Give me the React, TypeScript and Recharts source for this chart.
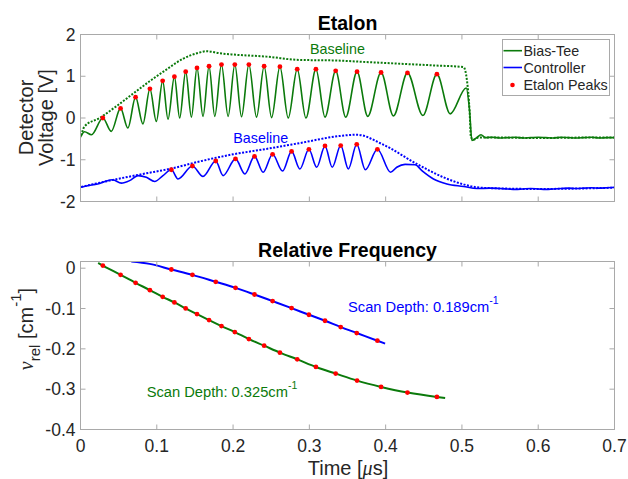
import React from 'react';
import { ComposedChart, Line, XAxis, YAxis, ReferenceArea } from 'recharts';

const FONT = '"Liberation Sans", Arial, Helvetica, sans-serif';
const SERIF = '"Liberation Serif", "DejaVu Serif", serif';
const AX = '#a9a9a9';
const TXT = '#262626';
const GREEN = '#0b7a0b';
const BLUE = '#0000ff';
const RED = '#ff0000';

// ---- axes ticks ----
const xTicks = [0, 0.1, 0.2, 0.3, 0.4, 0.5, 0.6, 0.7];
const voltTicks = [-2, -1, 0, 1, 2];
const freqTicks = [-0.4, -0.3, -0.2, -0.1, 0];

// ---- Etalon: Bias-Tee trace (time in us, volts) ----
const biasT = [0, 0.0053, 0.0144, 0.0293, 0.0403, 0.0525, 0.0621, 0.0722, 0.0818, 0.0910, 0.0994, 0.1077, 0.1147, 0.1231, 0.1300, 0.1379, 0.1454, 0.1527, 0.1606, 0.1685, 0.1760, 0.1848, 0.1935, 0.2023, 0.2111, 0.2207, 0.2308, 0.2407, 0.2505, 0.2614, 0.2723, 0.2841, 0.2955, 0.3086, 0.3205, 0.3345, 0.3477, 0.3625, 0.3765, 0.3940, 0.4102, 0.4286, 0.4488, 0.4672, 0.4846, 0.5056, 0.5100, 0.5131, 0.5188, 0.5250, 0.5306,
  0.54, 0.55, 0.56, 0.57, 0.58, 0.59, 0.60, 0.61, 0.62, 0.63, 0.64, 0.65, 0.66, 0.67, 0.68, 0.69, 0.70];
const biasV = [-0.46, -0.33, -0.40, 0.00, -0.32, 0.23, -0.24, 0.50, -0.14, 0.70, -0.08, 0.89, -0.03, 0.99, 0.00, 1.11, 0.02, 1.20, 0.04, 1.24, 0.04, 1.28, 0.04, 1.28, 0.03, 1.28, 0.02, 1.24, 0.01, 1.23, 0.00, 1.17, 0.00, 1.17, 0.02, 1.13, 0.02, 1.11, 0.04, 1.09, 0.05, 1.08, 0.06, 1.05, 0.10, 0.72, 0.18, -0.54, -0.48, -0.40, -0.47,
  -0.46, -0.48, -0.47, -0.46, -0.48, -0.47, -0.46, -0.47, -0.48, -0.46, -0.47, -0.48, -0.47, -0.46, -0.48, -0.47, -0.47];

// ---- Etalon: Controller trace ----
const ctrlT = [0, 0.0079, 0.0162, 0.0250, 0.0338, 0.0424, 0.0535, 0.0644, 0.0753, 0.0863, 0.0972, 0.1081, 0.1191, 0.1278, 0.1467, 0.1606, 0.1773, 0.1869, 0.2032, 0.2154, 0.2281, 0.2394, 0.2518, 0.2649, 0.2767, 0.2876, 0.2994, 0.3096, 0.3205, 0.3300, 0.3411, 0.3511, 0.3621, 0.3734, 0.3892, 0.4065, 0.4146, 0.4255, 0.4387, 0.4475, 0.4627, 0.4803, 0.5021, 0.5197, 0.5372,
  0.55, 0.56, 0.57, 0.58, 0.59, 0.60, 0.61, 0.62, 0.63, 0.64, 0.65, 0.66, 0.67, 0.68, 0.69, 0.70];
const ctrlV = [-1.66, -1.63, -1.60, -1.57, -1.51, -1.48, -1.56, -1.50, -1.38, -1.42, -1.52, -1.38, -1.24, -1.46, -1.15, -1.40, -1.03, -1.38, -0.98, -1.34, -0.92, -1.30, -0.87, -1.27, -0.80, -1.22, -0.75, -1.18, -0.67, -1.18, -0.66, -1.22, -0.63, -1.24, -0.75, -1.30, -1.18, -1.11, -1.12, -1.26, -1.46, -1.58, -1.64, -1.69, -1.68,
  -1.69, -1.70, -1.71, -1.70, -1.69, -1.70, -1.71, -1.70, -1.69, -1.68, -1.69, -1.68, -1.67, -1.68, -1.67, -1.66];

// ---- Baselines ----
const biasBaseT = [0.0009, 0.0053, 0.0250, 0.0469, 0.0687, 0.0906, 0.1126, 0.1345, 0.1563, 0.1650, 0.1826, 0.2000, 0.2439, 0.2876, 0.3300, 0.3752, 0.4190, 0.4627, 0.5021, 0.5066, 0.5100, 0.5118, 0.5152, 0.5214, 0.56, 0.60, 0.65, 0.70];
const biasBaseV = [-0.42, -0.20, 0.00, 0.28, 0.58, 0.88, 1.16, 1.42, 1.57, 1.60, 1.55, 1.52, 1.47, 1.39, 1.38, 1.34, 1.30, 1.26, 1.22, 0.90, 0.18, -0.46, -0.52, -0.47, -0.47, -0.48, -0.47, -0.47];
const ctrlBaseT = [0.0009, 0.0381, 0.0818, 0.1191, 0.1563, 0.2000, 0.2439, 0.2876, 0.3402, 0.3621, 0.3970, 0.4409, 0.4758, 0.5021, 0.5197, 0.5372, 0.60, 0.65, 0.70];
const ctrlBaseV = [-1.65, -1.50, -1.34, -1.21, -1.04, -0.87, -0.74, -0.60, -0.43, -0.40, -0.64, -1.10, -1.42, -1.59, -1.66, -1.68, -1.70, -1.69, -1.67];

// ---- Etalon peaks ----
const biasPeakT = [0.0293, 0.0525, 0.0722, 0.0910, 0.1077, 0.1231, 0.1379, 0.1527, 0.1685, 0.1848, 0.2023, 0.2207, 0.2407, 0.2614, 0.2841, 0.3086, 0.3345, 0.3625, 0.3940, 0.4286, 0.4672];
const biasPeakV = [0.00, 0.23, 0.50, 0.70, 0.89, 0.99, 1.11, 1.20, 1.24, 1.28, 1.28, 1.28, 1.24, 1.23, 1.17, 1.17, 1.13, 1.11, 1.09, 1.08, 1.05];
const ctrlPeakT = [0.1191, 0.1467, 0.1773, 0.2032, 0.2281, 0.2518, 0.2767, 0.2994, 0.3205, 0.3411, 0.3621, 0.3892];
const ctrlPeakV = [-1.24, -1.15, -1.03, -0.98, -0.92, -0.87, -0.80, -0.75, -0.67, -0.66, -0.63, -0.75];

// ---- Relative frequency at the peaks (cm^-1) ----
const biasFreqV = [0.0066, -0.0165, -0.0363, -0.0544, -0.0709, -0.0849, -0.0998, -0.1138, -0.1287, -0.1435, -0.1584, -0.1757, -0.1922, -0.2095, -0.2260, -0.2449, -0.2614, -0.2788, -0.2944, -0.3085, -0.3192];
const ctrlFreqV = [-0.0033, -0.0165, -0.0338, -0.0487, -0.0652, -0.0816, -0.0990, -0.1155, -0.1303, -0.1460, -0.1608, -0.1798];
// fit curves (ends)
const biasFitT = [0.0232, ...biasPeakT, 0.4780];
const biasFitV = [0.0130, ...biasFreqV, -0.3216];
const ctrlFitT = [0.0666, 0.0906, ...ctrlPeakT, 0.3993];
const ctrlFitV = [0.0165, 0.0107, ...ctrlFreqV, -0.1870];

const pts = (ts: number[], vs: number[]) => ts.map((t, i) => ({ t, v: vs[i] }));

const biasData = pts(biasT, biasV);
const ctrlData = pts(ctrlT, ctrlV);
const biasBase = pts(biasBaseT, biasBaseV);
const ctrlBase = pts(ctrlBaseT, ctrlBaseV);
const biasPeaks = pts(biasPeakT, biasPeakV);
const ctrlPeaks = pts(ctrlPeakT, ctrlPeakV);
const biasFreq = pts(biasPeakT, biasFreqV);
const ctrlFreq = pts(ctrlPeakT, ctrlFreqV);
const biasFit = pts(biasFitT, biasFitV);
const ctrlFit = pts(ctrlFitT, ctrlFitV);

const tickFont = { fill: TXT, fontSize: 17.5, fontFamily: FONT };
const noLabel = () => '';
const peakDot = { r: 2.4, fill: RED, stroke: 'none' };
const axLine = { stroke: AX, strokeWidth: 1 };

function TopChart() {
  return (
    <ComposedChart id="etalonChart" width={628} height={230} margin={{ top: 33.5, right: 12.5, bottom: 0, left: 0 }}>
      <XAxis xAxisId="b" dataKey="t" type="number" domain={[0, 0.7]} allowDataOverflow ticks={xTicks} interval={0} tickFormatter={noLabel} tickSize={-5} height={28.5} stroke={AX} axisLine={axLine} tickLine={axLine} />
      <XAxis xAxisId="t" dataKey="t" type="number" orientation="top" domain={[0, 0.7]} allowDataOverflow ticks={xTicks} interval={0} tickFormatter={noLabel} tickSize={-5} height={1} stroke={AX} axisLine={axLine} tickLine={axLine} />
      <YAxis yAxisId="l" type="number" domain={[-2, 2]} allowDataOverflow ticks={voltTicks} interval={0} width={80.5} tickSize={-5} tickMargin={10} stroke={AX} axisLine={axLine} tickLine={axLine} tick={tickFont} />
      <YAxis yAxisId="r" type="number" orientation="right" domain={[-2, 2]} allowDataOverflow ticks={voltTicks} interval={0} width={1} tickFormatter={noLabel} tickSize={-5} stroke={AX} axisLine={axLine} tickLine={axLine} />
      <ReferenceArea xAxisId="b" yAxisId="l" x1={0} x2={0.7} y1={-2} y2={2} fill="none" stroke={AX} strokeWidth={1} />
      <Line xAxisId="t" yAxisId="r" data={biasPeaks} dataKey="v" stroke="none" dot={false} isAnimationActive={false} legendType="none" />
      <Line xAxisId="b" yAxisId="l" data={biasBase} dataKey="v" type="monotone" stroke={GREEN} strokeWidth={2} strokeDasharray="2 1.5" dot={false} isAnimationActive={false} />
      <Line xAxisId="b" yAxisId="l" data={ctrlBase} dataKey="v" type="monotone" stroke={BLUE} strokeWidth={2} strokeDasharray="2 1.5" dot={false} isAnimationActive={false} />
      <Line xAxisId="b" yAxisId="l" data={biasData} dataKey="v" type="monotone" stroke={GREEN} strokeWidth={1.6} dot={false} isAnimationActive={false} />
      <Line xAxisId="b" yAxisId="l" data={ctrlData} dataKey="v" type="monotone" stroke={BLUE} strokeWidth={1.6} dot={false} isAnimationActive={false} />
      <Line xAxisId="b" yAxisId="l" data={biasPeaks} dataKey="v" stroke="none" dot={peakDot} isAnimationActive={false} />
      <Line xAxisId="b" yAxisId="l" data={ctrlPeaks} dataKey="v" stroke="none" dot={peakDot} isAnimationActive={false} />
    </ComposedChart>
  );
}

function BottomChart() {
  return (
    <ComposedChart id="freqChart" width={628} height={249} margin={{ top: 30.5, right: 12.5, bottom: 0, left: 0 }}>
      <XAxis xAxisId="b" dataKey="t" type="number" domain={[0, 0.7]} allowDataOverflow ticks={xTicks} interval={0} tick={tickFont} tickSize={-5} tickMargin={15} height={49.5} stroke={AX} axisLine={axLine} tickLine={axLine} />
      <XAxis xAxisId="t" dataKey="t" type="number" orientation="top" domain={[0, 0.7]} allowDataOverflow ticks={xTicks} interval={0} tickFormatter={noLabel} tickSize={-5} height={1} stroke={AX} axisLine={axLine} tickLine={axLine} />
      <YAxis yAxisId="l" type="number" domain={[-0.4, 0.0166]} allowDataOverflow ticks={freqTicks} interval={0} width={80.5} tickSize={-5} tickMargin={10} stroke={AX} axisLine={axLine} tickLine={axLine} tick={tickFont} />
      <YAxis yAxisId="r" type="number" orientation="right" domain={[-0.4, 0.0166]} allowDataOverflow ticks={freqTicks} interval={0} width={1} tickFormatter={noLabel} tickSize={-5} stroke={AX} axisLine={axLine} tickLine={axLine} />
      <ReferenceArea xAxisId="b" yAxisId="l" x1={0} x2={0.7} y1={-0.4} y2={0.0166} fill="none" stroke={AX} strokeWidth={1} />
      <Line xAxisId="t" yAxisId="r" data={biasFreq} dataKey="v" stroke="none" dot={false} isAnimationActive={false} legendType="none" />
      <Line xAxisId="b" yAxisId="l" data={biasFit} dataKey="v" type="monotone" stroke={GREEN} strokeWidth={2} dot={false} isAnimationActive={false} />
      <Line xAxisId="b" yAxisId="l" data={ctrlFit} dataKey="v" type="monotone" stroke={BLUE} strokeWidth={2} dot={false} isAnimationActive={false} />
      <Line xAxisId="b" yAxisId="l" data={biasFreq} dataKey="v" stroke="none" dot={peakDot} isAnimationActive={false} />
      <Line xAxisId="b" yAxisId="l" data={ctrlFreq} dataKey="v" stroke="none" dot={peakDot} isAnimationActive={false} />
    </ComposedChart>
  );
}

export default function App() {
  return (
    <div style={{ position: 'absolute', left: 0, top: 0, width: 628, height: 479, background: '#fff', fontFamily: FONT }}>
      <div style={{ position: 'absolute', left: 0, top: 0, width: 628, height: 230 }}>
        <TopChart />
      </div>
      <div style={{ position: 'absolute', left: 0, top: 230, width: 628, height: 249 }}>
        <BottomChart />
      </div>
      <svg width={628} height={479} style={{ position: 'absolute', left: 0, top: 0, pointerEvents: 'none' }} fontFamily={FONT}>
        <text x={347.5} y={30} textAnchor="middle" fontSize={19.5} fontWeight="bold" fill="#000">Etalon</text>
        <text x={347.5} y={256.5} textAnchor="middle" fontSize={19.5} fontWeight="bold" fill="#000">Relative Frequency</text>
        <text transform="translate(33,117.5) rotate(-90)" textAnchor="middle" fontSize={20} fill={TXT}>Detector</text>
        <text transform="translate(53,117.5) rotate(-90)" textAnchor="middle" fontSize={20} fill={TXT}>Voltage [V]</text>
        <text transform="translate(33,329) rotate(-90)" textAnchor="middle" fontSize={20} fill={TXT}>
          <tspan fontFamily={SERIF} fontStyle="italic">ν</tspan>
          <tspan fontSize={15} dy={7}>rel</tspan>
          <tspan dy={-7}> [cm</tspan>
          <tspan fontSize={15} dy={-12}>-1</tspan>
          <tspan dy={12}>]</tspan>
        </text>
        <text x={348} y={475} textAnchor="middle" fontSize={20} fill={TXT}>
          Time [<tspan fontFamily={SERIF} fontStyle="italic">μ</tspan>s]
        </text>
        <text x={310} y={53.5} fontSize={14.3} fill={GREEN}>Baseline</text>
        <text x={233.3} y={142.5} fontSize={14.3} fill={BLUE}>Baseline</text>
        <text x={348} y={311.5} fontSize={14.7} fill={BLUE}>Scan Depth: 0.189cm<tspan fontSize={10.5} dy={-8}>-1</tspan></text>
        <text x={146.7} y={397} fontSize={14.7} fill={GREEN}>Scan Depth: 0.325cm<tspan fontSize={10.5} dy={-8}>-1</tspan></text>
        <rect x={502.5} y={39.5} width={107} height={56} fill="#fff" stroke={AX} />
        <line x1={503.5} x2={522} y1={50.7} y2={50.7} stroke={GREEN} strokeWidth={1.6} />
        <text x={523.5} y={55.8} fontSize={14.3} fill={TXT}>Bias-Tee</text>
        <line x1={503.5} x2={522} y1={67.5} y2={67.5} stroke={BLUE} strokeWidth={1.6} />
        <text x={523.5} y={72.6} fontSize={14.3} fill={TXT}>Controller</text>
        <circle cx={512.5} cy={85} r={2.3} fill={RED} />
        <text x={523.5} y={90.1} fontSize={14.3} fill={TXT}>Etalon Peaks</text>
      </svg>
    </div>
  );
}
